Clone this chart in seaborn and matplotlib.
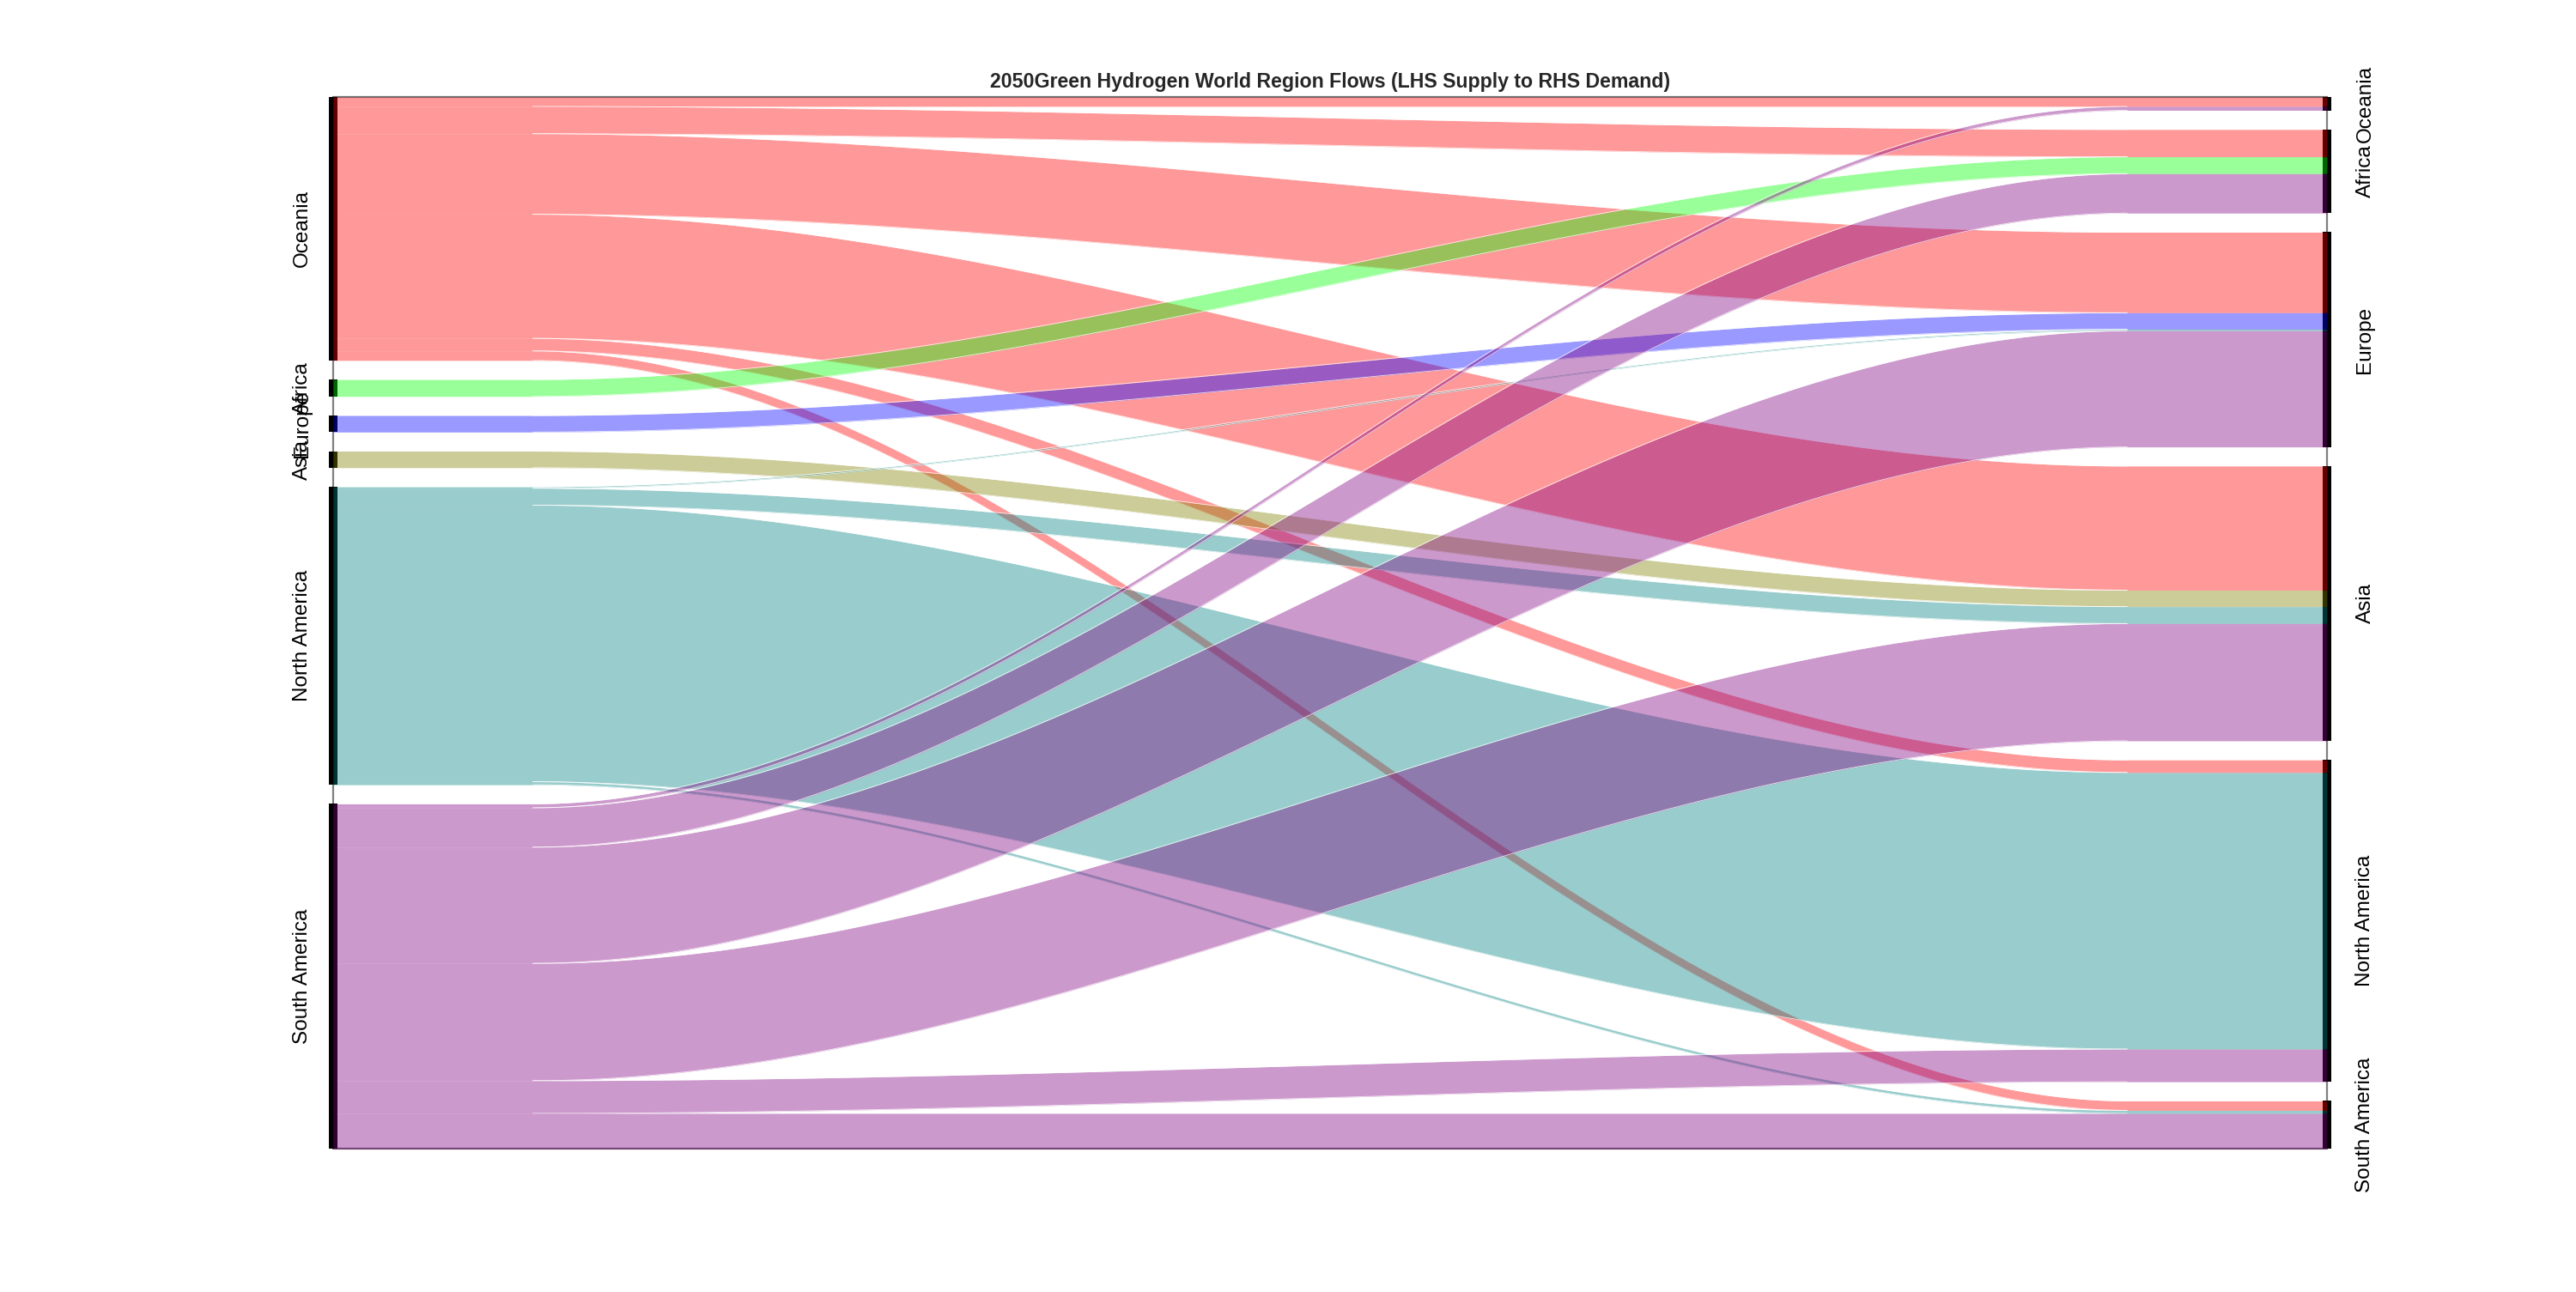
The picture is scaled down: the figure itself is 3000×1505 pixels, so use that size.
import matplotlib
matplotlib.use("Agg")
import matplotlib.pyplot as plt
from matplotlib.patches import Rectangle
import seaborn as sns
import numpy as np

# regions, top to bottom on both axes
regions = ["Oceania", "Africa", "Europe", "Asia", "North America", "South America"]
region_colors = ["#FF0000", "#00FF00", "#0000FF", "#808000", "#008080", "#800080"]

# supply region (LHS) -> demand region (RHS), columns in the same order as regions
from_oceania = [10.7, 31.8, 93.6, 144.2, 14.6, 11.0]
from_africa = [0, 19.6, 0, 0, 0, 0]
from_europe = [0, 0, 19.2, 0, 0, 0]
from_asia = [0, 0, 0, 19.2, 0, 0]
from_north_america = [0, 0, 1.7, 19.6, 321.4, 3.5]
from_south_america = [4.6, 45.8, 135.0, 136.3, 38.0, 41.2]

title = "2050Green Hydrogen World Region Flows (LHS Supply to RHS Demand)"

sns.set_theme(style="white")
plt.rcParams["font.family"] = ["Liberation Sans", "DejaVu Sans"]
palette = sns.color_palette(region_colors)

flows = np.array([from_oceania, from_africa, from_europe, from_asia,
                  from_north_america, from_south_america])
n = len(regions)
total = flows.sum()
gap = 0.02 * total
supply = flows.sum(axis=1)
demand = flows.sum(axis=0)


def node_tops(sizes):
    return np.concatenate([[0], np.cumsum(sizes + gap)[:-1]])


left_top = node_tops(supply)
right_top = node_tops(demand)
height = total + gap * (n - 1)

fig = plt.figure(figsize=(30, 15.05), dpi=100)
ax = fig.add_axes([0.1293, 0.1108, 0.7740, 0.8140])
ax.set_xlim(1, 2)
ax.set_ylim(height, 0)
ax.axis("off")

# axis lines and frame lines
for xa in (1, 2):
    ax.plot([xa, xa], [0, height], color="#808080", lw=1.6, zorder=1, clip_on=False)
for ya in (0, height):
    ax.plot([1, 2], [ya, ya], color="#707070", lw=1.6, zorder=1, clip_on=False)

# node boxes
bar_w = 0.0040
for i in range(n):
    ax.add_patch(Rectangle((1 - bar_w / 2, left_top[i]), bar_w, supply[i],
                           color="black", lw=0, zorder=2, clip_on=False))
    ax.add_patch(Rectangle((2 - bar_w / 2, right_top[i]), bar_w, demand[i],
                           color="black", lw=0, zorder=2, clip_on=False))

# flows: flat for the first/last tenth, smooth S-curve in between
xs = np.linspace(1, 2, 600)
t = np.clip((xs - 1.1) / 0.8, 0, 1)
s = t * t * (3 - 2 * t)
mid = (xs > 1.1) & (xs < 1.9)

z = 3
for i in range(n):
    for j in range(n):
        v = flows[i, j]
        if v <= 0:
            continue
        y0 = left_top[i] + flows[i, :j].sum()
        y1 = right_top[j] + flows[:i, j].sum()
        top = y0 + (y1 - y0) * s
        ax.fill_between(xs, top, top + v, color=palette[i], alpha=0.4,
                        lw=0, zorder=z, clip_on=False)
        # thin white seams along the curved part
        if y0 != y1:
            ax.plot(xs[mid], top[mid], color="white", lw=0.6, alpha=0.8, zorder=z + 0.5)
            ax.plot(xs[mid], top[mid] + v, color="white", lw=0.6, alpha=0.8, zorder=z + 0.5)
        z += 1

# labels
for i, name in enumerate(regions):
    ax.text(1 - 0.0156, left_top[i] + supply[i] / 2, name, rotation=90,
            ha="center", va="center", fontsize=17.5, color="black", clip_on=False)
    ax.text(2 + 0.0192, right_top[i] + demand[i] / 2, name, rotation=90,
            ha="center", va="center", fontsize=17.5, color="black", clip_on=False)

fig.text(0.5163, 0.9365, title, ha="center", va="center",
         fontsize=16.7, fontweight="bold")

fig.savefig("out.png", dpi=100)
